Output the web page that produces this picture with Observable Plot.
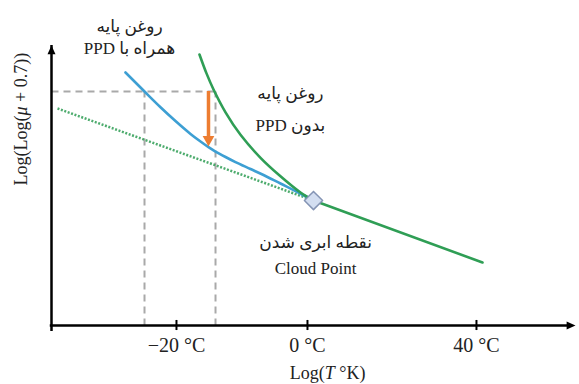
<!DOCTYPE html>
<html>
<head>
<meta charset="utf-8">
<script src="https://cdn.jsdelivr.net/npm/d3@7"></script>
<script src="https://cdn.jsdelivr.net/npm/@observablehq/plot@0.6"></script>
<style>
  html, body { margin: 0; padding: 0; background: #fff; }
  #chart { width: 579px; height: 384px; }
</style>
</head>
<body>
<div id="chart"></div>
<script>
// ---- data (schematic units) ----
const tickPos = [23.85, 48.85, 81.1];
const tickLabels = ["−20 °C", "0 °C", "40 °C"];

// base oil without PPD (green)
const greenX = [28.24, 29.58, 30.92, 33.21, 36.07, 39.89, 43.70, 47.52, 50.0];
const greenY = [96.79, 90.04, 84.29, 76.14, 68.11, 59.89, 53.29, 47.5, 44.64];
const greenTailX = [50.0, 82.25];
const greenTailY = [44.64, 22.5];

// base oil with PPD (blue)
const blueX = [14.12, 17.75, 20.80, 23.66, 26.53, 28.44, 29.96, 31.30, 33.21, 35.11, 37.98, 40.46, 43.70, 46.95, 49.62];
const blueY = [90.36, 83.57, 77.96, 73.04, 68.43, 65.71, 63.71, 62.14, 60.18, 58.36, 55.89, 53.75, 50.71, 47.68, 45.0];

// extrapolated line (dotted green)
const dottedX = [1.15, 50.0];
const dottedY = [77.5, 44.64];

// guide lines & arrow
const guideY = 83.57;
const guideX = [17.75, 31.3];
const arrowX = 29.96;
const arrowY = [83.57, 63.9];

// cloud point
const cloudX = [50.0];
const cloudY = [44.64];

// labels
const xLabel = "Log(T °K)";
const yLabel = "Log(Log(μ + 0.7))";
const labelWithPPD = ["روغن پایه", "همراه با PPD"];
const labelWithoutPPD = ["روغن پایه", "بدون PPD"];
const labelCloud = ["نقطه ابری شدن", "Cloud Point"];
const labelWithPPDPos = [14.89, 106.8, 98.9];
const labelWithoutPPDPos = [45.6, 82.9, 71.4];
const labelCloudPos = [50.4, 29.6, 20.4];

// ---- build ----
const rtl = s => "\u202B" + s + "\u202C";
const green = "#2f9e55", blue = "#3d9fd3", orange = "#ed7d31", gray = "#a9a9a9";
const serif = "Liberation Serif, DejaVu Sans, serif";

// filled arrowhead symbols, tip at origin
const triDown = {draw(ctx, size) { const l = Math.sqrt(size); ctx.moveTo(0, 0); ctx.lineTo(-l * 0.55, -l); ctx.lineTo(l * 0.55, -l); ctx.closePath(); }};
const triUp = {draw(ctx, size) { const l = Math.sqrt(size); ctx.moveTo(0, 0); ctx.lineTo(-l * 0.45, l); ctx.lineTo(l * 0.45, l); ctx.closePath(); }};
const triRight = {draw(ctx, size) { const l = Math.sqrt(size); ctx.moveTo(0, 0); ctx.lineTo(-l, -l * 0.45); ctx.lineTo(-l, l * 0.45); ctx.closePath(); }};

const greenData = greenX.map((x, i) => ({x, y: greenY[i]}));
const greenTail = greenTailX.map((x, i) => ({x, y: greenTailY[i]}));
const blueData = blueX.map((x, i) => ({x, y: blueY[i]}));
const dottedData = dottedX.map((x, i) => ({x, y: dottedY[i]}));
const guides = [
  {x1: 0, y1: guideY, x2: guideX[1], y2: guideY},
  ...guideX.map(x => ({x1: x, y1: 0, x2: x, y2: guideY}))
];
const textRows = [
  {x: labelWithPPDPos[0], y: labelWithPPDPos[1], t: rtl(labelWithPPD[0])},
  {x: labelWithPPDPos[0], y: labelWithPPDPos[2], t: rtl(labelWithPPD[1])},
  {x: labelWithoutPPDPos[0], y: labelWithoutPPDPos[1], t: rtl(labelWithoutPPD[0])},
  {x: labelWithoutPPDPos[0], y: labelWithoutPPDPos[2], t: rtl(labelWithoutPPD[1])},
  {x: labelCloudPos[0], y: labelCloudPos[1], t: rtl(labelCloud[0])},
  {x: labelCloudPos[0], y: labelCloudPos[2], t: labelCloud[1]}
];

const plot = Plot.plot({
  width: 579,
  height: 384,
  marginLeft: 51,
  marginRight: 4,
  marginTop: 45,
  marginBottom: 59,
  x: {domain: [0, 100], axis: null},
  y: {domain: [0, 100], axis: null},
  style: {background: "white", overflow: "visible"},
  marks: [
    // dashed guides
    Plot.link(guides, {x1: "x1", y1: "y1", x2: "x2", y2: "y2", stroke: gray, strokeWidth: 2, strokeDasharray: "7,5", strokeLinecap: "butt"}),
    // dotted extrapolation
    Plot.line(dottedData, {x: "x", y: "y", stroke: green, strokeWidth: 2.5, strokeDasharray: "2,1.6", strokeLinecap: "butt", strokeOpacity: 0.85}),
    // blue curve
    Plot.line(blueData, {x: "x", y: "y", stroke: blue, strokeWidth: 2.6, curve: "catmull-rom"}),
    // green curve
    Plot.line(greenData, {x: "x", y: "y", stroke: green, strokeWidth: 2.6, curve: "catmull-rom"}),
    Plot.line(greenTail, {x: "x", y: "y", stroke: green, strokeWidth: 2.6}),
    // orange arrow
    Plot.ruleX([arrowX], {y1: arrowY[0], y2: arrowY[1], stroke: orange, strokeWidth: 3.5, insetBottom: 8}),
    Plot.dot([arrowX], {x: d => d, y: arrowY[1], symbol: triDown, r: 6, fill: orange, stroke: "none"}),
    // cloud point diamond
    Plot.dot(cloudX.map((x, i) => ({x, y: cloudY[i]})), {x: "x", y: "y", symbol: "diamond2", r: 8.2, fill: "#d3def1", stroke: "#8494b4", strokeWidth: 1.5, strokeLinejoin: "round"}),
    // axes
    Plot.ruleY([0], {x1: 0, x2: 100, stroke: "black", strokeWidth: 2.5, insetRight: 6, insetLeft: -1.25}),
    Plot.ruleX([0], {y1: 0, y2: 100, stroke: "black", strokeWidth: 2.5, insetTop: 6}),
    Plot.dot([100], {x: d => d, y: 0, symbol: triRight, r: 5, fill: "black", stroke: "none"}),
    Plot.dot([100], {x: 0, y: d => d, symbol: triUp, r: 5, fill: "black", stroke: "none"}),
    Plot.ruleX(tickPos, {x: d => d, y1: -1.8, y2: 1.8, stroke: "black", strokeWidth: 2}),
    Plot.text(tickPos, {x: d => d, y: 0, text: (d, i) => tickLabels[i], dy: 20, fontSize: 20, fontFamily: serif, fill: "#222"}),
    // axis titles
    Plot.text([xLabel], {x: 52.7, y: 0, text: d => d, dy: 48, fontSize: 18, fontFamily: serif, fill: "#222"}),
    Plot.text([yLabel], {frameAnchor: "left", dx: -30, rotate: -90, text: d => d, fontSize: 18, fontFamily: serif, fill: "#222"}),
    // annotations
    Plot.text(textRows, {x: "x", y: "y", text: "t", fontSize: 17, fontFamily: serif, fill: "#222"})
  ]
});

// italic variables in axis titles
d3.select(plot).selectAll("text").each(function () {
  const el = d3.select(this);
  const txt = this.textContent;
  if (txt === xLabel) {
    el.text(null);
    el.append("tspan").text("Log(");
    el.append("tspan").attr("font-style", "italic").text("T");
    el.append("tspan").text(" °K)");
  } else if (txt === yLabel) {
    el.text(null);
    el.append("tspan").text("Log(Log(");
    el.append("tspan").attr("font-style", "italic").text("μ");
    el.append("tspan").text(" + 0.7))");
  }
});

document.getElementById("chart").appendChild(plot);
</script>
</body>
</html>
